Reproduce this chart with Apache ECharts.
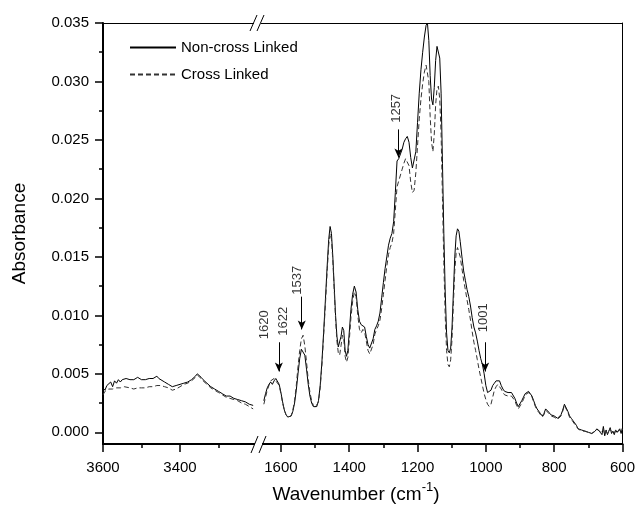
<!DOCTYPE html>
<html>
<head>
<meta charset="utf-8">
<script src="https://cdn.jsdelivr.net/npm/echarts@6/dist/echarts.min.js"></script>
<style>
  html, body { margin: 0; padding: 0; background: #fff; }
  #ch-main { width: 638px; height: 508px; }
</style>
</head>
<body>
<div id="ch-main"></div>
<script>
// left part of the broken axis (3600 - 3200 cm-1)
let wnLeft = [
    3600, 3595, 3590, 3585, 3580, 3575, 3570, 3565, 3560, 3555,
    3550, 3545, 3540, 3530, 3520, 3510, 3500, 3490, 3480, 3470,
    3460, 3455, 3450, 3440, 3430, 3420, 3410, 3400, 3390, 3380,
    3370, 3360, 3355, 3350, 3345, 3340, 3330, 3320, 3310, 3300,
    3290, 3280, 3270, 3260, 3250, 3240, 3230, 3220, 3210
]
let nonLeft = [
    .0038, .0036, .0040, .0039, .0043, .0039, .0044, .0042, .0045, .0043,
    .0045, .0044, .0046, .0045, .0045, .0047, .0045, .0045, .0046, .0046,
    .0048, .0046, .0045, .0043, .0041, .0039, .0040, .0041, .0042, .0043,
    .0045, .0048, .0050, .0049, .0047, .0045, .0042, .0039, .0037, .0035,
    .0033, .0031, .0031, .0029, .0028, .0027, .0026, .0024, .0023
]
let crossLeft = [
    .0032, .0035, .0036, .0037, .0038, .0037, .0038, .0038, .0039, .0038,
    .0038, .0039, .0039, .0038, .0037, .0038, .0038, .0038, .0039, .0039,
    .0040, .0040, .0040, .0039, .0038, .0036, .0037, .0039, .0041, .0042,
    .0044, .0047, .0049, .0048, .0046, .0044, .0041, .0038, .0036, .0034,
    .0032, .0030, .0029, .0028, .0027, .0025, .0024, .0022, .0020
]

// right part (1650 - 600 cm-1)
let wnRight = [
    1650, 1645, 1640, 1635, 1630, 1625, 1620, 1615, 1610, 1605,
    1600, 1595, 1590, 1585, 1580, 1575, 1570, 1565, 1560, 1555,
    1550, 1545, 1540, 1535, 1530, 1525, 1520, 1515, 1510, 1505,
    1500, 1495, 1490, 1485, 1480, 1475, 1470, 1465, 1460, 1456,
    1452, 1448, 1444, 1440, 1436, 1432, 1428, 1424, 1420, 1416,
    1412, 1408, 1404, 1400, 1395, 1390, 1385, 1380, 1375, 1370,
    1365, 1360, 1355, 1350, 1345, 1340, 1335, 1330, 1325, 1320,
    1315, 1310, 1305, 1300, 1295, 1290, 1285, 1280, 1275, 1270,
    1265, 1260, 1255, 1250, 1245, 1240, 1235, 1230, 1225, 1220,
    1215, 1210, 1205, 1200, 1195, 1190, 1185, 1180, 1175, 1171,
    1167, 1163, 1159, 1155, 1151, 1147, 1143, 1139, 1135, 1131,
    1127, 1123, 1119, 1115, 1111, 1107, 1103, 1099, 1095, 1091,
    1087, 1083, 1079, 1075, 1070, 1065, 1060, 1055, 1050, 1045,
    1040, 1035, 1030, 1025, 1020, 1015, 1010, 1005, 1000, 995,
    990, 985, 980, 975, 970, 965, 960, 955, 950, 945,
    940, 935, 930, 925, 920, 915, 910, 905, 900, 895,
    890, 885, 880, 875, 870, 865, 860, 855, 850, 845,
    840, 835, 830, 825, 820, 815, 810, 805, 800, 795,
    790, 785, 780, 775, 770, 765, 760, 755, 750, 745,
    740, 735, 730, 725, 720, 715, 710, 705, 700, 695,
    690, 685, 680, 675, 670, 665, 660, 656, 652, 648,
    644, 640, 636, 632, 628, 624, 620, 616, 612, 608,
    604, 600
]
let nonRight = [
    .0027, .0033, .0038, .0041, .0043, .0041, .0044, .0046, .0045, .0041,
    .0034, .0026, .0019, .0015, .0013, .0013, .0014, .0018, .0025, .0036,
    .0050, .0063, .0071, .0072, .0066, .0054, .0041, .0031, .0025, .0022,
    .0021, .0022, .0027, .0040, .0060, .0085, .0112, .0140, .0165, .0176,
    .0170, .0150, .0125, .0100, .0082, .0073, .0072, .0082, .0090, .0087,
    .0070, .0065, .0070, .0085, .0105, .0118, .0125, .0120, .0105, .0095,
    .0092, .0093, .0090, .0082, .0075, .0072, .0073, .0080, .0088, .0091,
    .0095, .0102, .0115, .0128, .0140, .0150, .0160, .0166, .0170, .0180,
    .0205, .0232, .0234, .0238, .0242, .0248, .0251, .0253, .0248, .0235,
    .0226, .0225, .0240, .0265, .0290, .0310, .0325, .0338, .0348, .0350,
    .0335, .0305, .0285, .0280, .0295, .0318, .0330, .0331, .0320, .0290,
    .0230, .0170, .0120, .0085, .0070, .0068, .0072, .0090, .0120, .0150,
    .0168, .0174, .0172, .0163, .0150, .0138, .0130, .0122, .0116, .0108,
    .0098, .0090, .0085, .0078, .0070, .0063, .0058, .0050, .0040, .0034,
    .0033, .0036, .0040, .0042, .0044, .0045, .0044, .0040, .0037, .0035,
    .0035, .0034, .0034, .0034, .0033, .0029, .0025, .0022, .0023, .0027,
    .0030, .0033, .0034, .0035, .0034, .0031, .0027, .0023, .0020, .0018,
    .0016, .0014, .0016, .0020, .0020, .0017, .0015, .0014, .0014, .0013,
    .0012, .0013, .0015, .0019, .0024, .0024, .0018, .0014, .0012, .0010,
    .0008, .0006, .0003, .0002, .0002, .0002, .0001, .0001, .0000, .0000,
    -.0001, .0000, .0001, .0003, .0002, .0000, -.0002, .0005, -.0003, .0002,
    -.0002, .0001, .0004, -.0001, .0001, -.0002, .0002, .0000, .0001, .0003,
    -.0001, .0004
]
let crossRight = [
    .0024, .0030, .0036, .0040, .0044, .0043, .0046, .0044, .0042, .0040,
    .0033, .0025, .0019, .0015, .0013, .0012, .0014, .0019, .0027, .0040,
    .0056, .0070, .0080, .0083, .0074, .0060, .0045, .0034, .0027, .0023,
    .0021, .0022, .0026, .0038, .0057, .0082, .0108, .0135, .0160, .0170,
    .0165, .0147, .0122, .0097, .0078, .0068, .0066, .0074, .0083, .0080,
    .0065, .0060, .0064, .0078, .0098, .0112, .0120, .0116, .0100, .0088,
    .0085, .0088, .0086, .0078, .0070, .0067, .0068, .0075, .0084, .0088,
    .0091, .0096, .0106, .0118, .0130, .0142, .0152, .0158, .0162, .0170,
    .0190, .0210, .0215, .0220, .0225, .0230, .0234, .0235, .0228, .0214,
    .0205, .0207, .0222, .0245, .0268, .0285, .0298, .0308, .0314, .0315,
    .0300, .0270, .0248, .0240, .0255, .0280, .0294, .0296, .0285, .0255,
    .0200, .0145, .0100, .0070, .0058, .0056, .0062, .0080, .0110, .0138,
    .0153, .0158, .0157, .0150, .0140, .0130, .0122, .0113, .0105, .0096,
    .0086, .0077, .0070, .0062, .0054, .0047, .0040, .0033, .0028, .0024,
    .0022, .0024, .0030, .0036, .0039, .0041, .0040, .0037, .0034, .0032,
    .0032, .0031, .0031, .0031, .0030, .0027, .0023, .0020, .0021, .0025,
    .0028, .0032, .0033, .0034, .0033, .0030, .0026, .0022, .0019, .0017,
    .0015, .0013, .0015, .0019, .0019, .0016, .0014, .0013, .0013, .0012,
    .0011, .0012, .0014, .0018, .0023, .0023, .0017, .0013, .0011, .0009,
    .0007, .0005, .0003, .0002, .0001, .0001, .0001, .0000, .0000, -.0001,
    -.0001, .0000, .0001, .0002, .0002, .0000, -.0001, .0003, -.0002, .0001,
    -.0001, .0001, .0003, .0000, .0001, -.0001, .0002, .0000, .0001, .0002,
    .0000, .0003
]

// tick values
let yMajor = [0, 0.005, 0.010, 0.015, 0.020, 0.025, 0.030, 0.035]
let yMinor = [0.0025, 0.0075, 0.0125, 0.0175, 0.0225, 0.0275, 0.0325]
let xLeftMajor = [3600, 3400]
let xRightMajor = [1600, 1400, 1200, 1000, 800, 600]

// peak annotations (rotated labels + arrows)
let peakLabels = ['1620', '1622', '1537', '1257', '1001']
let peakLabelWn = [1647, 1593, 1553, 1263, 1008]
let peakLabelY = [0.0092, 0.0095, 0.0130, 0.0277, 0.0098]
let arrowWn = [1606, 1539, 1256, 1002]
let arrowTop = [0.0077, 0.0116, 0.0259, 0.0077]
let arrowTip = [0.0052, 0.0088, 0.0235, 0.0052]

const pairs = (xs, ys) => xs.map((x, i) => [x, ys[i]])

const FONT = 'Liberation Sans, Arial, sans-serif'
const Y_MIN = -0.001, Y_MAX = 0.035

let main = echarts.init(document.getElementById('ch-main'))

function topLine(grid, min, max) {
    return {
        type: 'value', gridIndex: grid, position: 'top', inverse: true, min: min, max: max,
        axisLine: { show: true, onZero: false, lineStyle: { color: '#000', width: 1 } },
        axisTick: { show: false }, axisLabel: { show: false }, splitLine: { show: false }
    }
}

// bottom axis: interval 200 from min, minor ticks at the odd hundreds
function mainX(grid, min, max, values) {
    return {
        type: 'value', gridIndex: grid, position: 'bottom', inverse: true,
        min: min, max: max, interval: 200,
        axisLine: { show: true, onZero: false, lineStyle: { color: '#000', width: 2 } },
        axisTick: { show: true, customValues: values, length: 8, lineStyle: { color: '#000', width: 1.5 } },
        minorTick: { show: true, splitNumber: 2, length: 4, lineStyle: { color: '#000', width: 1.5 } },
        axisLabel: {
            customValues: values, color: '#000', fontSize: 15, fontFamily: FONT, margin: 16,
            formatter: v => String(v)
        },
        splitLine: { show: false },
        minorSplitLine: { show: false }
    }
}

let option = {
    animation: false,
    backgroundColor: '#fff',
    textStyle: { fontFamily: FONT },
    grid: [
        { left: 103, top: 23, width: 154, height: 421 },
        { left: 257, top: 23, width: 367, height: 421 }
    ],
    xAxis: [
        mainX(0, 3200, 3600, xLeftMajor),
        topLine(0, 3200, 3600),
        mainX(1, 600, 1670, xRightMajor),
        topLine(1, 600, 1670)
    ],
    yAxis: [
        {
            type: 'value', gridIndex: 0, position: 'left', min: Y_MIN, max: Y_MAX,
            name: 'Absorbance', nameLocation: 'middle', nameGap: 74,
            nameTextStyle: { color: '#000', fontSize: 19, fontFamily: FONT },
            axisLine: { show: true, onZero: false, lineStyle: { color: '#000', width: 2 } },
            axisTick: { show: true, customValues: yMajor, length: 8, lineStyle: { color: '#000', width: 1.5 } },
            axisLabel: {
                customValues: yMajor, color: '#000', fontSize: 15, fontFamily: FONT, margin: 14,
                formatter: v => v.toFixed(3)
            },
            splitLine: { show: false }
        },
        {
            type: 'value', gridIndex: 0, position: 'left', min: Y_MIN, max: Y_MAX,
            axisLine: { show: false, onZero: false },
            axisTick: { show: true, customValues: yMinor, length: 4, lineStyle: { color: '#000', width: 1.5 } },
            axisLabel: { show: false }, splitLine: { show: false }
        },
        {
            type: 'value', gridIndex: 1, position: 'right', min: Y_MIN, max: Y_MAX,
            axisLine: { show: true, onZero: false, lineStyle: { color: '#000', width: 1 } },
            axisTick: { show: false }, axisLabel: { show: false }, splitLine: { show: false }
        }
    ],
    legend: {
        orient: 'vertical', left: 124, top: 35,
        itemWidth: 46, itemHeight: 14, itemGap: 12,
        itemStyle: { opacity: 0 },
        textStyle: { color: '#000', fontSize: 15, fontFamily: FONT },
        data: ['Non-cross Linked', 'Cross Linked']
    },
    series: [
        {
            name: 'Non-cross Linked', type: 'line', xAxisIndex: 0, yAxisIndex: 0,
            data: pairs(wnLeft, nonLeft), symbol: 'none',
            lineStyle: { color: '#000', width: 1 }, itemStyle: { color: '#000' }
        },
        {
            name: 'Cross Linked', type: 'line', xAxisIndex: 0, yAxisIndex: 0,
            data: pairs(wnLeft, crossLeft), symbol: 'none',
            lineStyle: { color: '#333', width: 1, type: [5, 3] }, itemStyle: { color: '#333' }
        },
        {
            name: 'Non-cross Linked', type: 'line', xAxisIndex: 2, yAxisIndex: 2,
            data: pairs(wnRight, nonRight), symbol: 'none',
            lineStyle: { color: '#000', width: 1 }, itemStyle: { color: '#000' }
        },
        {
            name: 'Cross Linked', type: 'line', xAxisIndex: 2, yAxisIndex: 2,
            data: pairs(wnRight, crossRight), symbol: 'none',
            lineStyle: { color: '#333', width: 1, type: [5, 3] }, itemStyle: { color: '#333' }
        },
        {
            // peak labels, arrows drawn with markLine
            type: 'scatter', xAxisIndex: 2, yAxisIndex: 2, silent: true,
            symbolSize: 1, itemStyle: { color: 'rgba(0,0,0,0)' },
            data: peakLabels.map((t, i) => ({ name: t, value: [peakLabelWn[i], peakLabelY[i]] })),
            label: {
                show: true, position: 'inside', rotate: 90, formatter: p => p.name,
                color: '#000', fontSize: 13, fontFamily: FONT
            },
            markLine: {
                silent: true, symbol: ['none', 'arrow'], symbolSize: [6, 9],
                lineStyle: { color: '#000', width: 1, type: 'solid' },
                label: { show: false },
                data: arrowWn.map((w, i) => [{ coord: [w, arrowTop[i]] }, { coord: [w, arrowTip[i]] }])
            }
        }
    ],
    graphic: [
        // axis break marks
        { type: 'rect', shape: { x: 254, y: 18, width: 7, height: 10 }, style: { fill: '#fff' }, z: 100 },
        { type: 'line', shape: { x1: 250, y1: 31, x2: 257, y2: 15 }, style: { stroke: '#000', lineWidth: 1 }, z: 101 },
        { type: 'line', shape: { x1: 257, y1: 31, x2: 264, y2: 15 }, style: { stroke: '#000', lineWidth: 1 }, z: 101 },
        { type: 'rect', shape: { x: 255, y: 439, width: 7, height: 10 }, style: { fill: '#fff' }, z: 100 },
        { type: 'line', shape: { x1: 251, y1: 453, x2: 258, y2: 436 }, style: { stroke: '#000', lineWidth: 1 }, z: 101 },
        { type: 'line', shape: { x1: 259, y1: 453, x2: 266, y2: 436 }, style: { stroke: '#000', lineWidth: 1 }, z: 101 },
        // x axis title
        {
            type: 'text', x: 356, y: 482, z: 101,
            style: {
                text: '{a|Wavenumber (cm}{s|-1}{a|)}',
                textAlign: 'center',
                rich: {
                    a: { fontSize: 19, fontFamily: FONT, fill: '#000', lineHeight: 25 },
                    s: { fontSize: 13, fontFamily: FONT, fill: '#000', padding: [0, 0, 14, 0], lineHeight: 25 }
                }
            }
        }
    ]
}

main.setOption(option)
</script>
</body>
</html>
